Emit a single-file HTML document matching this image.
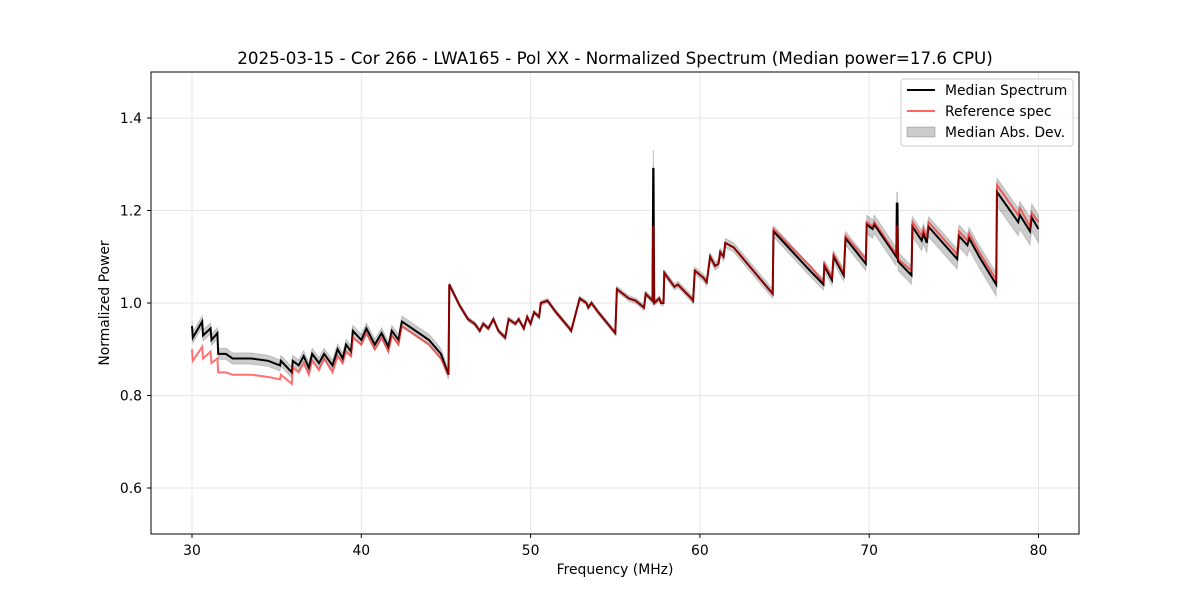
<!DOCTYPE html>
<html><head><meta charset="utf-8"><style>
body{margin:0;background:#fff;font-family:"Liberation Sans","DejaVu Sans",sans-serif}
svg text{font-family:"DejaVu Sans","Liberation Sans",sans-serif}
</style></head><body>
<svg id="chart" width="1200" height="600">
<rect width="1200" height="600" fill="#fff"/>
<g id="grid"></g>
<g id="band"></g>
<g id="lines"></g>
<rect x="151" y="72" width="928" height="462" fill="none" stroke="#000" stroke-width="1"/>
<g id="ticks"></g>
<text x="615" y="64" text-anchor="middle" font-size="16.7">2025-03-15 - Cor 266 - LWA165 - Pol XX - Normalized Spectrum (Median power=17.6 CPU)</text>
<text x="615" y="574" text-anchor="middle" font-size="13.9">Frequency (MHz)</text>
<text x="109" y="303" text-anchor="middle" font-size="13.9" transform="rotate(-90 109 303)">Normalized Power</text>
<g>
<rect x="901" y="79" width="172" height="67" rx="3" fill="#fff" fill-opacity="0.8" stroke="#ccc"/>
<g><line x1="907" y1="90" x2="935" y2="90" stroke="#000" stroke-width="2"/><text x="945" y="95" font-size="13.9">Median Spectrum</text></g>
<g><line x1="907" y1="111" x2="935" y2="111" stroke="#ff0000" stroke-opacity="0.6" stroke-width="2"/><text x="945" y="116" font-size="13.9">Reference spec</text></g>
<g><rect x="907" y="127" width="28" height="10" fill="#000" fill-opacity="0.2" stroke="#000" stroke-opacity="0.2"/><text x="945" y="137" font-size="13.9">Median Abs. Dev.</text></g>
</g>
</svg>
<script>
const freqs=[30.0,30.05,30.6,30.65,31.1,31.15,31.5,31.55,32.0,32.4,33.5,34.5,35.2,35.25,35.9,35.95,36.3,36.6,36.9,37.1,37.5,37.8,38.3,38.6,38.9,39.1,39.4,39.5,40.0,40.3,40.8,41.2,41.6,41.8,42.2,42.4,43.0,44.0,44.7,45.15,
45.2,45.8,46.3,46.7,47.0,47.2,47.5,47.8,48.1,48.5,48.7,49.1,49.3,49.6,49.8,50.0,50.2,50.5,50.6,51.0,51.5,52.3,52.4,52.9,53.3,53.4,53.6,54.0,55.0,55.1,55.8,56.2,56.7,56.8,57.2,57.24,57.26,57.3,57.6,57.7,57.85,57.9,58.3,58.5,58.7,59.5,59.6,59.7,60.2,60.4,60.6,60.9,61.1,61.2,61.4,61.5,62.0,64.3,
64.35,66.5,67.3,67.35,67.8,67.9,68.5,68.6,69.8,69.85,70.2,70.3,71.6,71.63,71.67,71.7,72.5,72.55,73.1,73.2,73.4,73.5,75.2,75.3,75.8,75.9,76.5,77.5,77.55,78.8,78.9,79.5,79.6,80.0];
const median=[.95,.925,.96,.93,.945,.92,.935,.89,.89,.88,.88,.875,.865,.875,.85,.875,.865,.885,.86,.89,.87,.89,.865,.9,.88,.91,.895,.94,.92,.945,.91,.935,.905,.94,.92,.96,.945,.92,.89,.845,
1.04,.995,.965,.955,.94,.955,.945,.965,.94,.925,.965,.955,.965,.945,.97,.955,.98,.97,1.0,1.005,.98,.945,.94,1.01,1.0,.99,1.0,.98,.935,1.03,1.01,1.005,.99,1.02,1.005,1.29,1.29,1.0,1.01,1.0,1.0,1.065,1.045,1.035,1.04,1.01,1.005,1.07,1.055,1.045,1.1,1.08,1.085,1.11,1.1,1.13,1.12,1.02,
1.155,1.07,1.04,1.08,1.05,1.1,1.06,1.14,1.085,1.17,1.16,1.17,1.1,1.215,1.215,1.09,1.06,1.165,1.135,1.15,1.13,1.165,1.095,1.145,1.125,1.14,1.1,1.04,1.24,1.175,1.19,1.155,1.185,1.16];
const reference=[.90,.875,.905,.88,.895,.87,.88,.85,.85,.845,.845,.84,.835,.845,.825,.86,.85,.87,.845,.875,.855,.88,.85,.885,.87,.895,.885,.925,.91,.935,.9,.925,.895,.93,.91,.95,.935,.91,.88,.845,
1.04,.995,.965,.955,.94,.955,.945,.965,.94,.925,.965,.955,.965,.945,.97,.955,.98,.97,1.0,1.005,.98,.945,.94,1.01,1.0,.99,1.0,.98,.935,1.03,1.01,1.005,.99,1.02,1.005,1.165,1.165,1.0,1.01,1.0,1.0,1.065,1.045,1.035,1.04,1.01,1.005,1.07,1.055,1.045,1.1,1.08,1.085,1.11,1.1,1.13,1.12,1.02,
1.16,1.08,1.045,1.085,1.055,1.105,1.065,1.145,1.095,1.175,1.165,1.175,1.105,1.165,1.165,1.095,1.07,1.175,1.145,1.16,1.14,1.175,1.105,1.155,1.135,1.15,1.11,1.05,1.255,1.19,1.205,1.165,1.195,1.175];
const mad=[.012,.012,.012,.012,.012,.012,.012,.012,.012,.012,.012,.012,.012,.012,.012,.012,.012,.012,.012,.012,.012,.012,.012,.012,.012,.012,.012,.012,.012,.012,.012,.012,.012,.012,.012,.012,.012,.012,.012,.01,
.005,.005,.005,.005,.005,.005,.005,.005,.005,.005,.005,.005,.005,.005,.005,.005,.005,.005,.005,.005,.005,.005,.005,.005,.005,.005,.005,.005,.005,.006,.006,.006,.006,.006,.006,.04,.04,.006,.006,.006,.006,.007,.007,.007,.007,.007,.007,.008,.008,.008,.009,.009,.009,.009,.009,.01,.01,.01,
.012,.012,.012,.012,.012,.013,.013,.015,.015,.02,.02,.02,.02,.025,.025,.02,.02,.022,.022,.022,.022,.022,.022,.024,.024,.024,.024,.025,.03,.03,.03,.03,.03,.03];
const xTicks=[30,40,50,60,70,80];
const yTicks=[0.6,0.8,1.0,1.2,1.4];
const NS='http://www.w3.org/2000/svg';
function X(f){return 192+(f-30)*16.93;}
function Y(v){return 303-(v-1.0)*462.5;}
function mk(tag,attrs,parent){const e=document.createElementNS(NS,tag);for(const k in attrs)e.setAttribute(k,attrs[k]);parent.appendChild(e);return e;}
const grid=document.getElementById('grid'),ticks=document.getElementById('ticks');
xTicks.forEach(t=>{const x=X(t);
 const g=mk('line',{x1:x,x2:x,y1:72,y2:534,stroke:'#e6e6e6','stroke-width':1},grid);
 
 
 mk('line',{x1:x,x2:x,y1:534,y2:538,stroke:'#000'},ticks);
 const tx=mk('text',{x:x,y:555,'text-anchor':'middle','font-size':13.9},ticks);tx.textContent=t;
 
 
});
yTicks.forEach(t=>{const y=Y(t);
 const g=mk('line',{x1:151,x2:1079,y1:y,y2:y,stroke:'#e6e6e6','stroke-width':1},grid);
 
 
 mk('line',{x1:147,x2:151,y1:y,y2:y,stroke:'#000'},ticks);
 const tx=mk('text',{x:142,y:y+5,'text-anchor':'end','font-size':13.9},ticks);tx.textContent=t.toFixed(1);
 
 
});
let up=[],lo=[];
freqs.forEach((f,i)=>{up.push(X(f).toFixed(1)+','+Y(median[i]+mad[i]).toFixed(1));lo.unshift(X(f).toFixed(1)+','+Y(median[i]-mad[i]).toFixed(1));});
const band=mk('polygon',{points:up.concat(lo).join(' '),fill:'#000','fill-opacity':0.2,stroke:'#000','stroke-opacity':0.15},document.getElementById('band'));


const lines=document.getElementById('lines');
const pm=freqs.map((f,i)=>X(f).toFixed(1)+','+Y(median[i]).toFixed(1)).join(' ');
const l1=mk('polyline',{points:pm,fill:'none',stroke:'#000','stroke-width':2},lines);


const pr=freqs.map((f,i)=>X(f).toFixed(1)+','+Y(reference[i]).toFixed(1)).join(' ');
const l2=mk('polyline',{points:pr,fill:'none',stroke:'#ff0000','stroke-opacity':0.55,'stroke-width':2},lines);


</script>
</body></html>
